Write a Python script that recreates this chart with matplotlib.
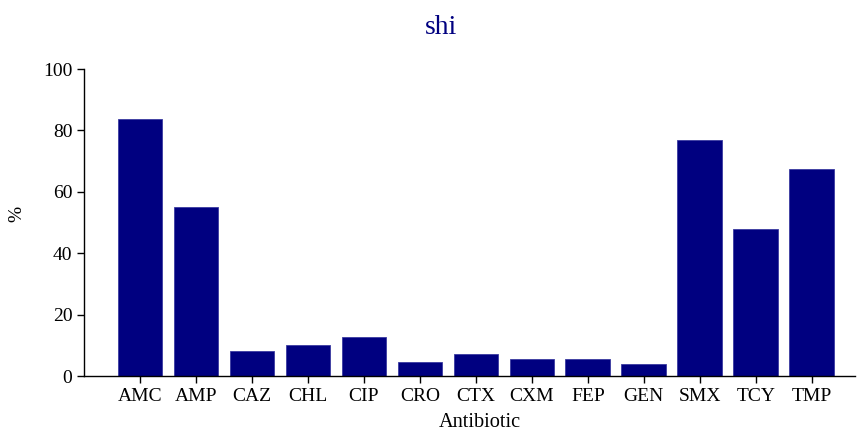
import matplotlib
matplotlib.use("Agg")
import matplotlib.pyplot as plt

antibiotics = ["AMC", "AMP", "CAZ", "CHL", "CIP", "CRO", "CTX", "CXM", "FEP", "GEN", "SMX", "TCY", "TMP"]
percent = [83.7, 55.1, 8.2, 10.1, 12.7, 4.6, 7.2, 5.6, 5.6, 3.8, 76.8, 47.8, 67.6]
y_ticks = [0, 20, 40, 60, 80, 100]

plt.rcParams["font.family"] = ["Liberation Serif", "DejaVu Serif"]

W, H = 867, 436
fig = plt.figure(figsize=(W / 100, H / 100), dpi=100)
ax = fig.add_axes([0.097, 0.1376, 0.889, 0.704])

x = list(range(len(antibiotics)))
ax.bar(x, percent, width=0.8, color="#000080", edgecolor="#3a3aa0", linewidth=0.6)

ax.set_xlim(-1, 12.77)
ax.set_ylim(0, 100)
ax.set_yticks(y_ticks)
ax.set_xticks(x)
ax.set_xticklabels(antibiotics)
ax.tick_params(axis="both", direction="out", length=5, width=1, labelsize=14, colors="black")

for side in ("top", "right"):
    ax.spines[side].set_visible(False)
for side in ("left", "bottom"):
    ax.spines[side].set_linewidth(1)

# Title and axis labels placed in figure coordinates
fig.text(441 / W, 1 - 27 / H, "shi", fontsize=20, color="#000080", ha="center", va="center")
fig.text(480 / W, 1 - 427 / H, "Antibiotic", fontsize=14.6, ha="center", va="baseline")
fig.text(17 / W, 1 - 214 / H, "%", fontsize=14, rotation=90, ha="center", va="center")

fig.savefig("out.png", dpi=100)
